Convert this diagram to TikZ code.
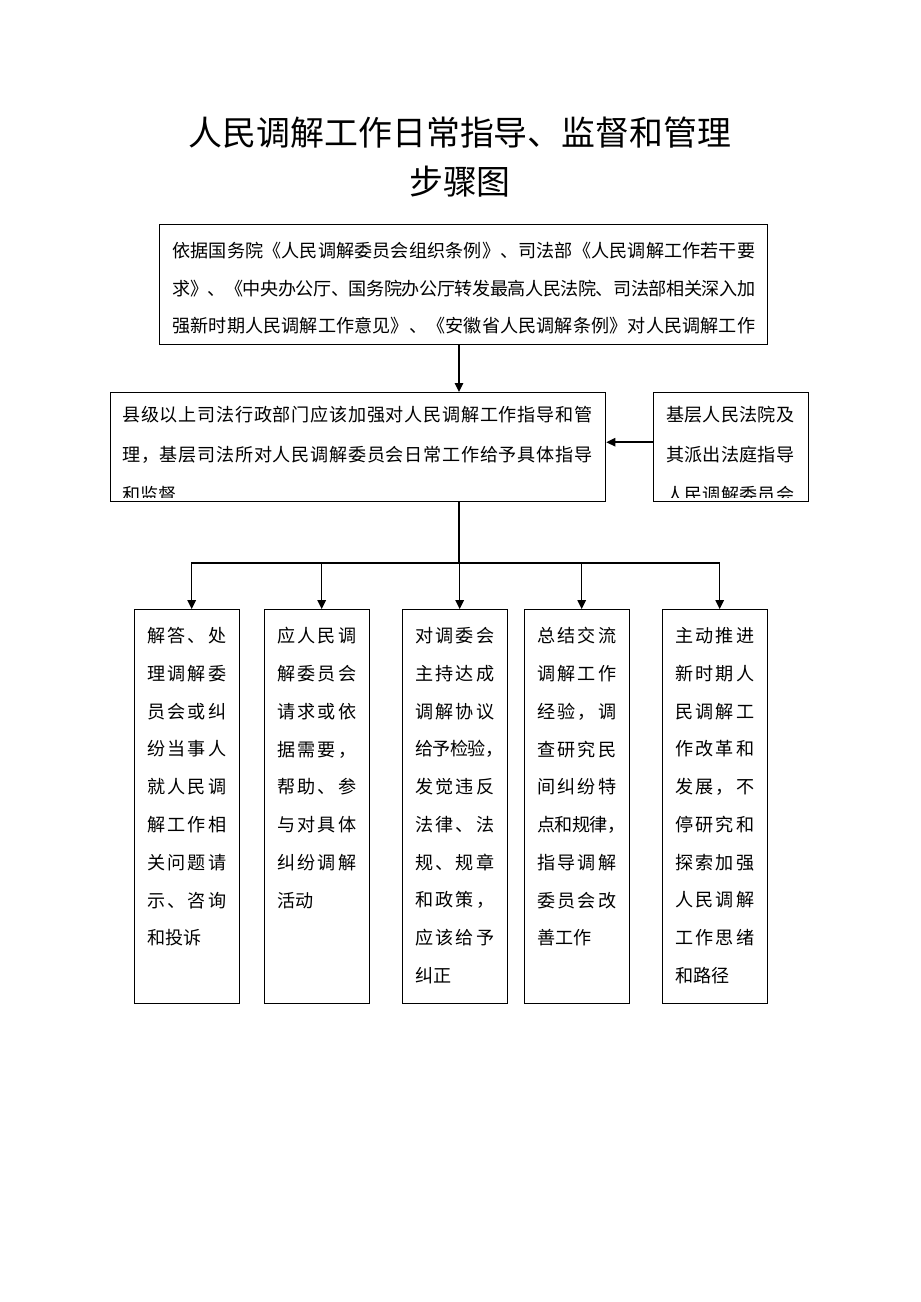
\documentclass[tikz,border=0pt]{standalone}
\usepackage{fontspec}
\setmainfont{Noto Sans CJK SC}
\usetikzlibrary{arrows.meta}

\newlength\spreadw
\def\spreadchars#1#2{#1\ifx#2\relax\else\hskip 0pt plus 1fil minus .2em\relax\expandafter\spreadchars\expandafter#2\fi}
\newcommand\spreadline[1]{\hbox to \spreadw{\spreadchars#1\relax}}
\newcommand\halfcomma{\makebox[.5em][l]{，}}

\tikzset{
	box/.style = {draw, line width = .8pt, inner sep = 0pt, anchor = north west},
	boxtext/.style = {anchor = north west, inner sep = 0pt, align = left, font = \fontsize{10.3}{21.5}\selectfont, execute at begin node = {\rule{0pt}{.88em}}},
	spread/.code = {\setlength\spreadw{#1}},
	arrow/.style = {line width = .8pt, -{Triangle[length = 1.8mm, width = 1.7mm]}}
}

\begin{document}
\begin{tikzpicture}[x = 0.02cm, y = -0.02cm]
		\useasboundingbox (0, 0) rectangle (920, 1302);
		\node[font = \fontsize{19.3}{23}\selectfont] (title) at (460, 133) {人民调解工作日常指导、监督和管理};
		\node[font = \fontsize{19.3}{23}\selectfont] (subtitle) at (460, 182) {步骤图};

		\node[box, minimum width = 12.16cm, minimum height = 2.4cm] (basis) at (159, 224) {};
		\node[boxtext, spread = 11.66cm, font = \fontsize{10.3}{21.3}\selectfont] (basistext) at ([shift = {(13, 18)}]basis.north west) {%
			\spreadline{依据国务院《人民调解委员会组织条例》、司法部《人民调解工作若干要}\\
			\spreadline{求》、《中央办公厅、国务院办公厅转发最高人民法院、司法部相关深入加}\\
			\spreadline{强新时期人民调解工作意见》、《安徽省人民调解条例》对人民调解工作}};

		\node[box, minimum width = 9.9cm, minimum height = 2.18cm] (county) at (110, 392) {};
		\node[box, minimum width = 3.1cm, minimum height = 2.18cm] (court) at (653, 392) {};
		\begin{scope}
		\clip (county.north west) rectangle ([shift = {(0, -5)}]county.south east);
		\node[boxtext, spread = 9.4cm, font = \fontsize{10.3}{22.7}\selectfont] (countytext) at ([shift = {(12, 14)}]county.north west) {%
			\spreadline{县级以上司法行政部门应该加强对人民调解工作指导和管}\\
			\spreadline{理，基层司法所对人民调解委员会日常工作给予具体指导}\\
			和监督};
		\end{scope}
		\begin{scope}
		\clip (court.north west) rectangle ([shift = {(0, -5)}]court.south east);
		\node[boxtext, spread = 2.56cm, font = \fontsize{10.3}{22.7}\selectfont] (courttext) at ([shift = {(13, 14)}]court.north west) {%
			\spreadline{基层人民法院及}\\
			\spreadline{其派出法庭指导}\\
			\spreadline{人民调解委员会}};
		\end{scope}

		\foreach \x/\n in {134/1, 264/2, 402/3, 524/4, 662/5}{
			\node[box, minimum width = 2.1cm, minimum height = 7.88cm] (b\n) at (\x, 609) {};}

		\node[boxtext, spread = 1.58cm] (t1) at ([shift = {(13, 18)}]b1.north west) {%
			\spreadline{解答、处}\\ \spreadline{理调解委}\\ \spreadline{员会或纠}\\
			\spreadline{纷当事人}\\ \spreadline{就人民调}\\ \spreadline{解工作相}\\
			\spreadline{关问题请}\\ \spreadline{示、咨询}\\ 和投诉};
		\node[boxtext, spread = 1.58cm] (t2) at ([shift = {(13, 18)}]b2.north west) {%
			\spreadline{应人民调}\\ \spreadline{解委员会}\\ \spreadline{请求或依}\\
			\spreadline{据需要，}\\ \spreadline{帮助、参}\\ \spreadline{与对具体}\\
			\spreadline{纠纷调解}\\ 活动};
		\node[boxtext, spread = 1.58cm] (t3) at ([shift = {(13, 18)}]b3.north west) {%
			\spreadline{对调委会}\\ \spreadline{主持达成}\\ \spreadline{调解协议}\\
			\spreadline{给予检验\halfcomma}\\ \spreadline{发觉违反}\\ \spreadline{法律、法}\\
			\spreadline{规、规章}\\ \spreadline{和政策，}\\ \spreadline{应该给予}\\ 纠正};
		\node[boxtext, spread = 1.58cm] (t4) at ([shift = {(13, 18)}]b4.north west) {%
			\spreadline{总结交流}\\ \spreadline{调解工作}\\ \spreadline{经验，调}\\
			\spreadline{查研究民}\\ \spreadline{间纠纷特}\\ \spreadline{点和规律\halfcomma}\\
			\spreadline{指导调解}\\ \spreadline{委员会改}\\ 善工作};
		\node[boxtext, spread = 1.58cm] (t5) at ([shift = {(13, 18)}]b5.north west) {%
			\spreadline{主动推进}\\ \spreadline{新时期人}\\ \spreadline{民调解工}\\
			\spreadline{作改革和}\\ \spreadline{发展，不}\\ \spreadline{停研究和}\\
			\spreadline{探索加强}\\ \spreadline{人民调解}\\ \spreadline{工作思绪}\\ 和路径};

		\coordinate (fork) at (459, 563);
		\draw[arrow] (fork |- basis.south) -- (fork |- county.north);
		\draw[arrow] ([yshift = .1cm]court.west) -- ([yshift = .1cm]county.east);
		\draw[line width = .8pt] (fork |- county.south) -- (fork);
		\foreach \n in {1, ..., 5}{
			\draw[arrow] (fork) -| ([xshift = .09cm]b\n.north);}
\end{tikzpicture}
\end{document}
